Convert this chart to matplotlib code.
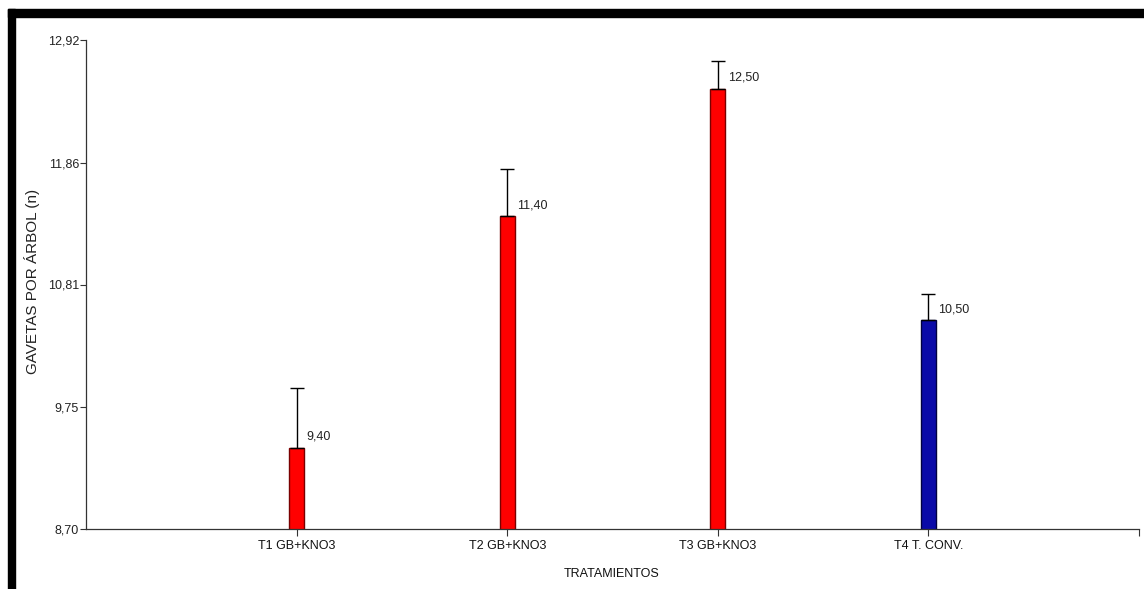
import matplotlib.pyplot as plt
from matplotlib.patches import Rectangle

# ---------------------------------------------------------
# DATA
# ---------------------------------------------------------
treatments = ["T1 GB+KNO3", "T2 GB+KNO3", "T3 GB+KNO3", "T4 T. CONV."]
means = [9.40, 11.40, 12.50, 10.50]
errors = [0.52, 0.41, 0.24, 0.23]
value_labels = ["9,40", "11,40", "12,50", "10,50"]
y_ticks = [8.70, 9.75, 10.81, 11.86, 12.92]
y_tick_labels = ["8,70", "9,75", "10,81", "11,86", "12,92"]
bar_colors = ["#ff0000", "#ff0000", "#ff0000", "#0a0aa8"]
edge_colors = ["#7a0000", "#7a0000", "#7a0000", "#000040"]

font = ["Liberation Sans Narrow", "Liberation Sans", "DejaVu Sans"]

fig = plt.figure(figsize=(11.44, 5.89), dpi=100)
ax = fig.add_axes([86 / 1144, 1 - 529 / 589, (1139 - 86) / 1144, (529 - 40) / 589])

x = [1, 2, 3, 4]
ax.bar(x, means, width=0.072, color=bar_colors, edgecolor=edge_colors,
       linewidth=1.0, zorder=2)
ax.errorbar(x, means, yerr=[[0] * 4, errors], fmt="none", ecolor="black",
            elinewidth=1.0, capsize=5, capthick=1.0, zorder=3)

# value labels next to each bar
for xi, m, lab in zip(x, means, value_labels):
    ax.annotate(lab, (xi, m), xytext=(10, 11), textcoords="offset pixels",
                ha="left", va="center", fontsize=9, family=font, color="#222222")

ax.set_xlim(0, 5)
ax.set_ylim(8.70, 12.92)
ax.set_yticks(y_ticks)
ax.set_yticklabels(y_tick_labels, family=font, fontsize=9, color="#222222")
ax.set_xticks(x + [5])
ax.set_xticklabels(treatments + [""], family=font, fontsize=9, color="#111111")
ax.tick_params(axis="y", length=4, width=0.8, pad=1, color="#333333")
ax.tick_params(axis="x", length=5, width=0.8, pad=3, color="#333333")

for side in ["top", "right"]:
    ax.spines[side].set_visible(False)
for side in ["left", "bottom"]:
    ax.spines[side].set_linewidth(0.9)
    ax.spines[side].set_color("#333333")

ax.set_ylabel("GAVETAS POR ÁRBOL (n)", fontsize=11, family=font, color="#222222")
ax.yaxis.set_label_coords(40 / 1144, 1 - 281 / 589, transform=fig.transFigure)
ax.set_xlabel("TRATAMIENTOS", fontsize=9, family=font, color="#111111")
ax.xaxis.set_label_coords(612 / 1144, 1 - 568 / 589, transform=fig.transFigure)

# thick black frame on top and left edge
fig.add_artist(Rectangle((8 / 1144, 1 - 17 / 589), 1 - 8 / 1144, 8 / 589,
                         transform=fig.transFigure, color="black", zorder=10))
fig.add_artist(Rectangle((8 / 1144, 0), 7 / 1144, 1 - 9 / 589,
                         transform=fig.transFigure, color="black", zorder=10))

fig.savefig("out.png", dpi=100)
